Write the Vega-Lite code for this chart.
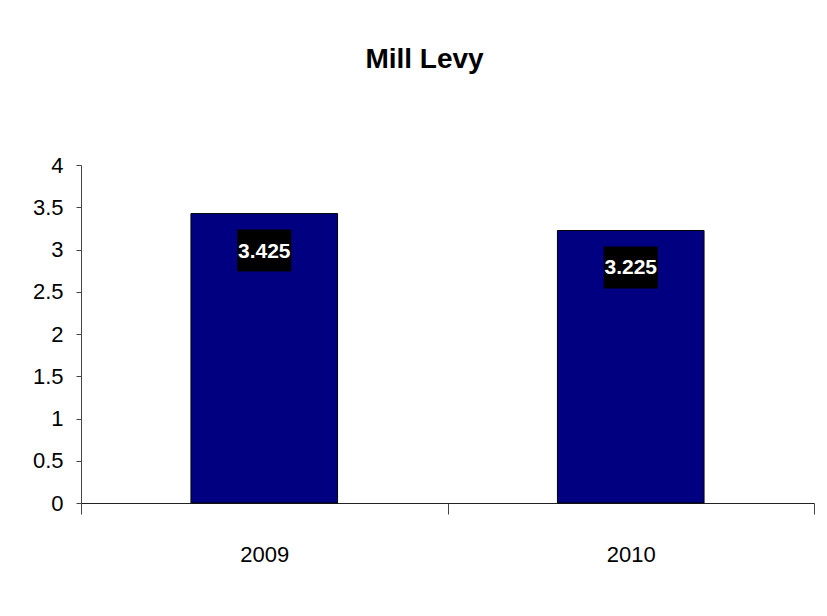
{
  "$schema": "https://vega.github.io/schema/vega-lite/v6.json",
  "autosize": "none",
  "width": 733,
  "height": 338,
  "padding": {"left": 81, "top": 165, "right": 13, "bottom": 113},
  "background": "white",
  "title": {
    "text": "Mill Levy",
    "font": "Liberation Sans",
    "fontSize": 28,
    "fontWeight": "bold",
    "color": "black",
    "anchor": "middle",
    "baseline": "alphabetic",
    "offset": 58,
    "dx": -23
  },
  "config": {
    "view": {"stroke": null},
    "font": "Liberation Sans"
  },
  "data": {
    "values": [
      {"year": "2009", "levy": 3.425},
      {"year": "2010", "levy": 3.225}
    ]
  },
  "encoding": {
    "x": {
      "field": "year",
      "type": "nominal",
      "scale": {"paddingInner": 0, "paddingOuter": 0},
      "axis": {
        "title": null,
        "labelAngle": 0,
        "labelFont": "Liberation Sans",
        "labelFontSize": 22,
        "labelColor": "black",
        "labelPadding": 30,
        "tickBand": "extent",
        "tickSize": 11,
        "tickColor": "#444",
        "domainColor": "#222",
        "grid": false
      }
    },
    "y": {
      "field": "levy",
      "type": "quantitative",
      "scale": {"domain": [0, 4], "nice": false},
      "axis": {
        "title": null,
        "values": [0, 0.5, 1, 1.5, 2, 2.5, 3, 3.5, 4],
        "format": "~g",
        "labelFont": "Liberation Sans",
        "labelFontSize": 22,
        "labelColor": "black",
        "labelPadding": 13,
        "tickSize": 5,
        "tickColor": "#444",
        "domainColor": "#444",
        "grid": false
      }
    }
  },
  "layer": [
    {
      "mark": {"type": "bar", "width": {"band": 0.4}, "color": "#000080", "stroke": "black", "strokeWidth": 1}
    },
    {
      "mark": {
        "type": "point",
        "shape": "M-1.29,-1H1.29V1H-1.29Z",
        "size": 1764,
        "filled": true,
        "color": "black",
        "opacity": 1,
        "strokeWidth": 0,
        "yOffset": 37
      }
    },
    {
      "mark": {
        "type": "text",
        "color": "white",
        "font": "Liberation Sans",
        "fontSize": 21,
        "fontWeight": "bold",
        "baseline": "middle",
        "align": "center",
        "yOffset": 38
      },
      "encoding": {
        "text": {"field": "levy", "type": "quantitative", "format": ".3f"}
      }
    }
  ]
}
